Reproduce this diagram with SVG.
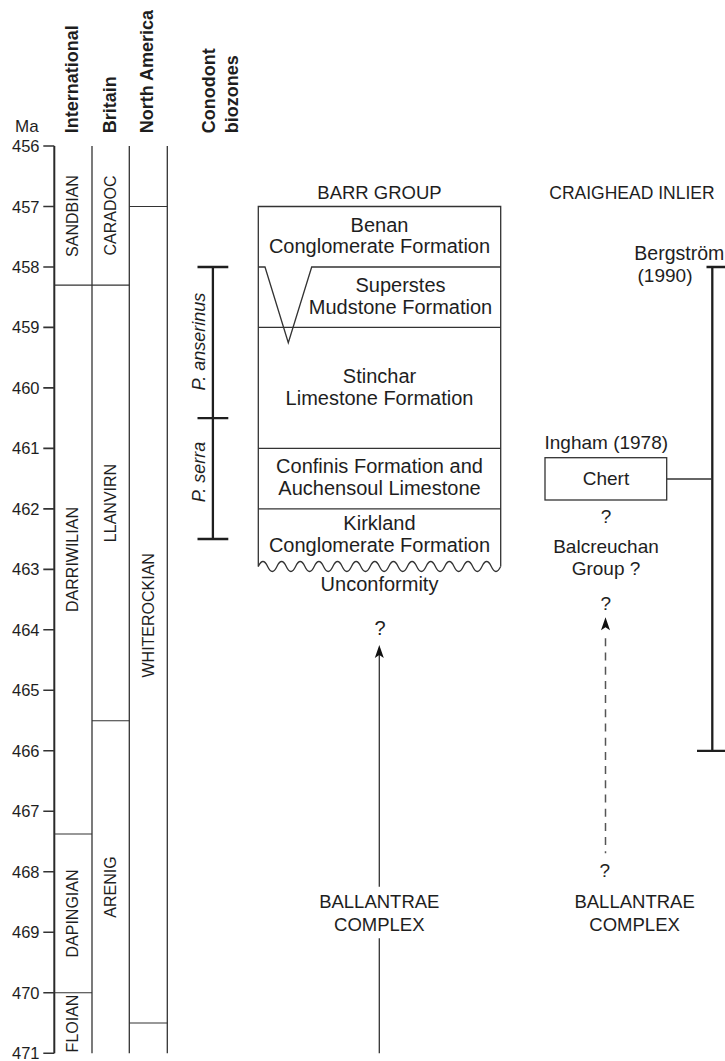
<svg xmlns="http://www.w3.org/2000/svg" width="725" height="1061" viewBox="0 0 725 1061">
<style>
text{font-family:"Liberation Sans",Arial,sans-serif;fill:#1e1e1e}
.hdr{font-weight:bold;font-size:18px}
.tick{font-size:16.5px;text-anchor:end}
.col{font-size:16px;text-anchor:middle}
.zone{font-size:18px;font-style:italic;text-anchor:middle}
.t{font-size:20px;text-anchor:middle}
.r{font-size:19px;text-anchor:middle}
.cap{font-size:18.5px;text-anchor:middle}
.ln{stroke:#333;stroke-width:1.3;fill:none}
.thin{stroke:#333;stroke-width:1.1;fill:none}
.ax{stroke:#2a2a2a;stroke-width:2;fill:none}
.bar{stroke:#1e1e1e;stroke-width:2.3;fill:none}
.dash{stroke:#555;stroke-width:1.5;fill:none;stroke-dasharray:8 6.2}
.head{fill:#111}
</style>
<defs>
<path id="arrowhead" class="head" d="M0,0 L-4.5,13 L0,10 L4.5,13 Z"/>
</defs>

<g id="headers">
<text class="hdr" transform="translate(77.5,133.3) rotate(-90)">International</text>
<text class="hdr" transform="translate(115.7,133.3) rotate(-90)">Britain</text>
<text class="hdr" transform="translate(153,133.3) rotate(-90)">North America</text>
<text class="hdr" transform="translate(214.5,133.3) rotate(-90)">Conodont</text>
<text class="hdr" transform="translate(237.5,133.3) rotate(-90)">biozones</text>
<text x="15" y="131.7" style="font-size:17px">Ma</text>
</g>

<g id="time-axis">
<path class="ax" d="M54.3,146 V1053.2"/>
<path class="thin" d="M43.3,146H54.3 M43.3,206.5H54.3 M43.3,267H54.3 M43.3,327.4H54.3 M43.3,387.9H54.3 M43.3,448.4H54.3 M43.3,508.9H54.3 M43.3,569.4H54.3 M43.3,629.8H54.3 M43.3,690.3H54.3 M43.3,750.8H54.3 M43.3,811.3H54.3 M43.3,871.8H54.3 M43.3,932.2H54.3 M43.3,992.7H54.3 M43.3,1053.2H54.3" style="stroke-width:1.6"/>
<text class="tick" x="39.5" y="152">456</text>
<text class="tick" x="39.5" y="212.5">457</text>
<text class="tick" x="39.5" y="273">458</text>
<text class="tick" x="39.5" y="333.4">459</text>
<text class="tick" x="39.5" y="393.9">460</text>
<text class="tick" x="39.5" y="454.4">461</text>
<text class="tick" x="39.5" y="514.9">462</text>
<text class="tick" x="39.5" y="575.4">463</text>
<text class="tick" x="39.5" y="635.8">464</text>
<text class="tick" x="39.5" y="696.3">465</text>
<text class="tick" x="39.5" y="756.8">466</text>
<text class="tick" x="39.5" y="817.3">467</text>
<text class="tick" x="39.5" y="877.8">468</text>
<text class="tick" x="39.5" y="938.2">469</text>
<text class="tick" x="39.5" y="998.7">470</text>
<text class="tick" x="39.5" y="1059.2">471</text>
</g>

<g id="international">
<path class="ln" d="M92,146V1053.2"/>
<path class="thin" d="M54.3,285.1H92 M54.3,834H92 M54.3,992.7H92"/>
<text class="col" transform="translate(78.3,216) rotate(-90)">SANDBIAN</text>
<text class="col" transform="translate(78.3,559.5) rotate(-90)">DARRIWILIAN</text>
<text class="col" transform="translate(78.3,913.5) rotate(-90)">DAPINGIAN</text>
<text class="col" transform="translate(78.3,1023.5) rotate(-90)">FLOIAN</text>
</g>

<g id="britain">
<path class="ln" d="M129.3,146V1053.2"/>
<path class="thin" d="M92,285.1H129.3 M92,720.8H129.3"/>
<text class="col" transform="translate(116,215.5) rotate(-90)">CARADOC</text>
<text class="col" transform="translate(116,503) rotate(-90)">LLANVIRN</text>
<text class="col" transform="translate(116,887) rotate(-90)">ARENIG</text>
</g>

<g id="north-america">
<path class="ln" d="M167.3,146V1053.2"/>
<path class="thin" d="M129.3,206.5H167.3 M129.3,1023H167.3"/>
<text class="col" transform="translate(154,615.3) rotate(-90)">WHITEROCKIAN</text>
</g>

<g id="conodont-biozones">
<path class="bar" d="M212.9,267V539 M197.5,267H228.3 M197.5,418.2H228.3 M197.5,539H228.3"/>
<text class="zone" transform="translate(205,341.7) rotate(-90)">P. anserinus</text>
<text class="zone" transform="translate(205,472) rotate(-90)">P. serra</text>
</g>

<g id="barr-group">
<text class="cap" x="379.5" y="199.3">BARR GROUP</text>
<path class="ln" d="M258.3,566.5V206.5H500.7V566.5"/>
<g id="benan">
<text class="t" x="379.5" y="231.7">Benan</text>
<text class="t" x="379.5" y="253.3">Conglomerate Formation</text>
</g>
<g id="superstes">
<path class="ln" d="M258.3,267H265 L288.3,342.7 L311.7,267 H500.7"/>
<text class="t" x="400.5" y="291.7">Superstes</text>
<text class="t" x="400.5" y="314.3">Mudstone Formation</text>
</g>
<g id="stinchar">
<path class="ln" d="M258.3,327.4H500.7"/>
<text class="t" x="379.5" y="383.3">Stinchar</text>
<text class="t" x="379.5" y="405">Limestone Formation</text>
</g>
<g id="confinis">
<path class="ln" d="M258.3,448.4H500.7"/>
<text class="t" x="379.5" y="473.3">Confinis Formation and</text>
<text class="t" x="379.5" y="495">Auchensoul Limestone</text>
</g>
<g id="kirkland">
<path class="ln" d="M258.3,508.9H500.7"/>
<text class="t" x="379.5" y="530">Kirkland</text>
<text class="t" x="379.5" y="552.3">Conglomerate Formation</text>
</g>
<g id="unconformity">
<path class="ln" d="M258.3,566.5 q4.66,-10 9.32,0 t9.32,0 t9.32,0 t9.32,0 t9.32,0 t9.32,0 t9.32,0 t9.32,0 t9.32,0 t9.32,0 t9.32,0 t9.32,0 t9.32,0 t9.32,0 t9.32,0 t9.32,0 t9.32,0 t9.32,0 t9.32,0 t9.32,0 t9.32,0 t9.32,0 t9.32,0 t9.32,0 t9.32,0 t9.32,0"/>
<text class="t" x="379.5" y="591">Unconformity</text>
</g>
</g>

<g id="barr-ballantrae">
<text class="t" x="380" y="635">?</text>
<text class="cap" x="379.3" y="908.3">BALLANTRAE</text>
<text class="cap" x="379.3" y="930.7">COMPLEX</text>
</g>

<g id="craighead-inlier">
<text x="549.3" y="199.3" style="font-size:17.5px">CRAIGHEAD INLIER</text>
<g id="bergstrom">
<text x="634.3" y="260" style="font-size:19.5px">Bergström</text>
<text class="r" x="665" y="281.7">(1990)</text>
<path class="bar" d="M712.3,267V750.8 M706.5,267H726 M697,750.8H726"/>
</g>
<g id="ingham">
<text class="r" x="606.3" y="449.3">Ingham (1978)</text>
<rect class="ln" x="545" y="457.7" width="121.7" height="42.3"/>
<text class="r" x="606" y="485">Chert</text>
</g>
<text class="r" x="606" y="523.3">?</text>
<text class="r" x="606" y="552.7">Balcreuchan</text>
<text class="r" x="606" y="575">Group ?</text>
<text class="r" x="605.7" y="609.5">?</text>
<text class="r" x="604.7" y="876.7">?</text>
<text class="cap" x="634.6" y="908.3">BALLANTRAE</text>
<text class="cap" x="634.6" y="930.7">COMPLEX</text>
</g>

<g id="connectors">
<path class="ln" d="M379.3,648V886.7"/>
<use href="#arrowhead" x="379.3" y="645"/>
<path class="ln" d="M379.3,938.3V1053.3"/>
<path class="dash" d="M605.5,638.3V853.3"/>
<use href="#arrowhead" x="605.5" y="617.3"/>
<path class="ln" d="M666.7,479H712.3"/>
</g>
</svg>
